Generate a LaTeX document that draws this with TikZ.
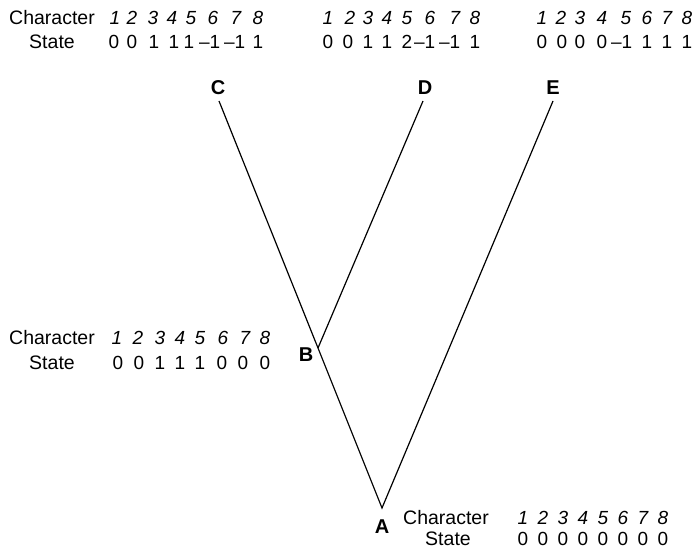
\documentclass[tikz,border=0pt]{standalone}
\usepackage{fontspec}
\setmainfont{Liberation Sans}
\begin{document}
\begin{tikzpicture}[x=1pt,y=-1pt,
  txt/.style={inner sep=0pt,font=\fontsize{19.5}{22}\selectfont},
  num/.style={inner sep=0pt,font=\fontsize{19}{22}\selectfont},
  chr/.style={inner sep=0pt,font=\fontsize{19}{22}\selectfont\itshape},
  taxon/.style={inner sep=0pt,font=\fontsize{20}{22}\selectfont\bfseries},
  branch/.style={line width=1.2pt}]
\useasboundingbox (0,0) rectangle (694,549);
\newcommand\mn{\llap{\textendash}}

% ---- branch points and tips
\coordinate (tC) at (219,101);
\coordinate (tD) at (423,101);
\coordinate (tE) at (553,101);
\coordinate (jB) at (318,348);
\coordinate (jA) at (382,508);

\draw[branch] (tC) -- (jB) -- (jA) -- (tE);
\draw[branch] (tD) -- (jB);

% ---- taxon labels
\node[taxon] (C) at (218,88) {C};
\node[taxon] (D) at (425,88) {D};
\node[taxon] (E) at (553,88) {E};
\node[taxon] (B) at (306,355) {B};
\node[taxon] (A) at (382,527) {A};

% ---- character tables: top row
\node[txt] (chTop) at (52,18) {Character};
\node[txt] (stTop) at (52,42) {State};
\foreach \xx/\vv in {115/1,132/2,153/3,172/4,191/5,213/6,236/7,258/8}
  \node[chr] at (\xx,18) {\vv};
\foreach \xx/\vv in {114/0,132/0,154/1,174/1,189/1,215/\mn1,240/\mn1,258/1}
  \node[num] at (\xx,42) {\vv};

\foreach \xx/\vv in {328/1,350/2,368/3,387/4,407/5,430/6,455/7,475/8}
  \node[chr] at (\xx,18) {\vv};
\foreach \xx/\vv in {328/0,348/0,368/1,387/1,407/2,430/\mn1,455/\mn1,475/1}
  \node[num] at (\xx,42) {\vv};

\foreach \xx/\vv in {542/1,561/2,580/3,602/4,626/5,647/6,667/7,687/8}
  \node[chr] at (\xx,18) {\vv};
\foreach \xx/\vv in {542/0,562/0,580/0,602/0,627/\mn1,647/1,667/1,687/1}
  \node[num] at (\xx,42) {\vv};

% ---- character table at B
\node[txt] (chB) at (52,338) {Character};
\node[txt] (stB) at (52,363) {State};
\foreach \xx/\vv in {117/1,138/2,160/3,180/4,200/5,223/6,245/7,265/8}
  \node[chr] at (\xx,338) {\vv};
\foreach \xx/\vv in {118/0,139/0,160/1,180/1,200/1,222/0,243/0,265/0}
  \node[num] at (\xx,363) {\vv};

% ---- character table at A
\node[txt] (chA) at (446,518) {Character};
\node[txt] (stA) at (448,539) {State};
\foreach \xx/\vv in {523/1,543/2,563/3,583/4,603/5,623/6,643/7,663/8}
  \node[chr] at (\xx,518) {\vv};
\foreach \xx/\vv in {523/0,543/0,563/0,583/0,603/0,623/0,643/0,663/0}
  \node[num] at (\xx,539) {\vv};
\end{tikzpicture}
\end{document}
